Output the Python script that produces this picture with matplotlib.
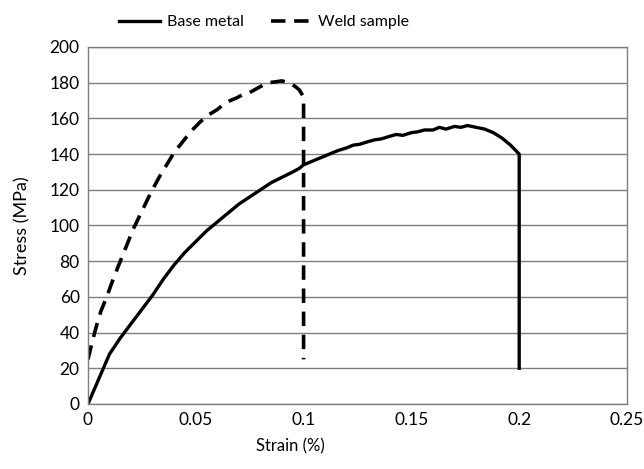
import matplotlib.pyplot as plt

plt.rcParams['font.family'] = ['Lato', 'DejaVu Sans']

# Base metal curve (strain %, stress MPa)
base_strain = [0.0, 0.005, 0.01, 0.015, 0.02, 0.025, 0.03, 0.035, 0.04, 0.045,
               0.05, 0.055, 0.06, 0.065, 0.07, 0.075, 0.08, 0.085, 0.09, 0.095,
               0.098, 0.1, 0.103, 0.106, 0.11, 0.113, 0.116, 0.12, 0.123, 0.126,
               0.13, 0.133, 0.136, 0.14, 0.143, 0.146, 0.15, 0.153, 0.156, 0.16,
               0.163, 0.166, 0.17, 0.173, 0.176, 0.18, 0.184, 0.188, 0.192, 0.196,
               0.2, 0.2]
base_stress = [0, 14, 28, 37, 45, 53, 61, 70, 78, 85,
               91, 97, 102, 107, 112, 116, 120, 124, 127, 130,
               132, 134, 135.5, 137, 139, 140.5, 142, 143.5, 145, 145.5,
               147, 148, 148.5, 150, 151, 150.5, 152, 152.5, 153.5, 153.5,
               155, 154, 155.5, 155, 156, 155, 154, 152, 149, 145,
               140, 20]

# Weld sample curve
weld_strain = [0.0, 0.002, 0.004, 0.006, 0.009, 0.012, 0.015, 0.018, 0.021, 0.025,
               0.029, 0.033, 0.037, 0.04, 0.044, 0.048, 0.052, 0.056, 0.06, 0.063,
               0.066, 0.069, 0.072, 0.075, 0.078, 0.081, 0.084, 0.087, 0.09, 0.093,
               0.096, 0.098, 0.1, 0.1]
weld_stress = [25, 35, 44, 52, 61, 71, 80, 89, 98, 108,
               118, 127, 135, 141, 147, 153, 158, 162, 165, 168,
               170, 171.5, 173.5, 174.5, 176.5, 178.5, 180, 180.5, 181, 180,
               178, 176, 172, 25]

fig, ax = plt.subplots(figsize=(6.44, 4.69), dpi=100)
fig.subplots_adjust(left=0.1366, right=0.9736, bottom=0.1386, top=0.8998)

ax.plot(base_strain, base_stress, color='black', lw=2.4, label='Base metal')
ax.plot(weld_strain, weld_stress, color='black', lw=2.6,
        linestyle=(0, (4, 2.4)), label='Weld sample')

ax.set_xlim(0, 0.25)
ax.set_ylim(0, 200)
ax.set_xticks([0, 0.05, 0.1, 0.15, 0.2, 0.25])
ax.set_xticklabels(['0', '0.05', '0.1', '0.15', '0.2', '0.25'])
ax.set_yticks(range(0, 201, 20))
ax.yaxis.grid(True, color='#7f7f7f', lw=1)
ax.set_axisbelow(True)
ax.tick_params(length=0, labelsize=12.5, pad=6)
for s in ax.spines.values():
    s.set_color('#7f7f7f')
    s.set_linewidth(1)

ax.set_xlabel('Strain (%)', fontsize=12, labelpad=12)
ax.xaxis.set_label_coords(0.375, -0.095)
ax.set_ylabel('Stress (MPa)', fontsize=13, labelpad=14)

fig.legend(loc='upper center', bbox_to_anchor=(0.41, 0.998), ncol=2,
           frameon=False, fontsize=11.5, handlelength=2.6, columnspacing=1.7,
           handletextpad=0.4)

fig.savefig('out.png')
